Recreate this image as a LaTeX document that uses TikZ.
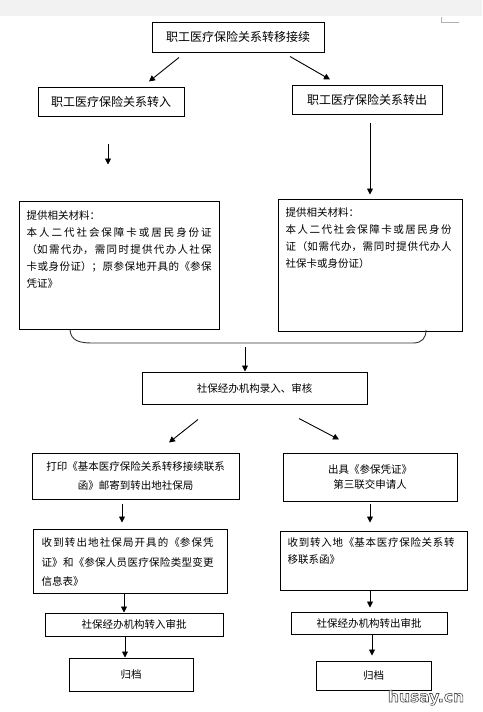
\documentclass[tikz,border=0pt]{standalone}
\usepackage{fontspec}
\newfontfamily\cjk{Noto Sans CJK SC}
\newfontfamily\wmfont{DejaVu Sans}
\usetikzlibrary{arrows.meta}
\XeTeXlinebreaklocale "zh"
\XeTeXlinebreakskip=0pt plus 4pt
\newcommand\outlined[1]{\special{pdf:code q 2 Tr 0.6 w 0.3 G}#1\special{pdf:code Q}}
\tikzset{
  box/.style={draw, line width=1pt, inner sep=0pt, font=\cjk\fontsize{10.5}{17}\selectfont},
  bigbox/.style={box, font=\cjk\fontsize{12}{14}\selectfont},
  txt/.style={inner sep=0pt, anchor=base west, align=justify, font=\cjk\fontsize{10.5}{17}\selectfont},
  arr/.style={line width=0.9pt, -{Triangle[length=6pt,width=6pt]}},
  wmtext/.style={inner sep=0pt, anchor=base, font=\wmfont\bfseries\fontsize{15.5}{15.5}\selectfont},
}
\begin{document}
\begin{tikzpicture}[x=1pt,y=-1pt]
\useasboundingbox (0,0) rectangle (482,712);
\fill[black!5] (0,0) rectangle (482,16);
\draw[black!30, line width=0.6pt] (441,17) -- (441,22) -- (459,22);
% top level
\node[bigbox, minimum width=172pt, minimum height=30pt] (top) at (238,37) {职工医疗保险关系转移接续};
\node[bigbox, minimum width=146pt, minimum height=29pt] (in) at (111,101.5) {职工医疗保险关系转入};
\node[bigbox, minimum width=150pt, minimum height=29pt] (out) at (367,99.5) {职工医疗保险关系转出};
\draw[arr] ([xshift=-59pt,yshift=-5pt]top.south) -- ([xshift=38pt,yshift=5pt]in.north);
\draw[arr] ([xshift=52pt,yshift=-4pt]top.south) -- ([xshift=-37pt,yshift=5pt]out.north);
% materials
\node[box, minimum width=200pt, minimum height=128pt] (matin) at (119,265) {};
\node[txt, text width=185pt] (matin-t) at ([xshift=8pt,yshift=-19pt]matin.north west) {提供相关材料：\\本人二代社会保障卡或居民身份证\linebreak{}（如需代办，需同时提供代办人社保\linebreak{}卡或身份证）；原参保地开具的《参保\linebreak{}凭证》};
\node[box, minimum width=184pt, minimum height=132pt] (matout) at (370,265) {};
\node[txt, text width=166pt] (matout-t) at ([xshift=8pt,yshift=-18pt]matout.north west) {提供相关材料：\\本人二代社会保障卡或居民身份\linebreak{}证（如需代办，需同时提供代办人\linebreak{}社保卡或身份证）};
\draw[arr] ([xshift=-3pt,yshift=-27pt]in.south) -- ([xshift=-11pt,yshift=36pt]matin.north);
\draw[arr] ([xshift=3pt,yshift=-8pt]out.south) -- ([yshift=4pt]matout.north);
% brace
\draw[line width=0.9pt, black!80] (70,330) .. controls (71,341) and (80,343) .. (92,343) -- (413,343) .. controls (422,343) and (426,338) .. (426,330);
\coordinate (join) at (245,343);
\node[box, minimum width=225pt, minimum height=32pt] (check) at (254.5,388) {社保经办机构录入、审核};
\draw[arr] ([yshift=-4pt]join) -- ([xshift=-9.5pt]check.north);
% second split
\node[box, minimum width=207pt, minimum height=46pt, align=center, font=\cjk\fontsize{10.5}{19}\selectfont] (print) at (135.5,476) {打印《基本医疗保险关系转移接续联系\\函》邮寄到转出地社保局};
\node[box, minimum width=174pt, minimum height=48pt, align=center, font=\cjk\fontsize{10.5}{15.5}\selectfont] (issue) at (370,477) {出具《参保凭证》\\第三联交申请人};
\draw[arr] ([xshift=-56.5pt,yshift=-15pt]check.south) -- ([xshift=33.5pt,yshift=10pt]print.north);
\draw[arr] ([xshift=44.5pt,yshift=-14pt]check.south) -- ([xshift=-31pt,yshift=13pt]issue.north);
% received papers
\node[box, minimum width=194pt, minimum height=64pt] (recvin) at (130,561) {};
\node[txt, text width=172pt, font=\cjk\fontsize{10.5}{19.5}\selectfont] (recvin-t) at ([xshift=9pt,yshift=-18pt]recvin.north west) {收到转出地社保局开具的《参保凭\linebreak{}证》和《参保人员医疗保险类型变更\linebreak{}信息表》};
\node[box, minimum width=187pt, minimum height=59pt] (recvout) at (373.5,560.5) {};
\node[txt, text width=167pt] (recvout-t) at ([xshift=8pt,yshift=-16pt]recvout.north west) {收到转入地《基本医疗保险关系转\linebreak{}移联系函》};
\draw[arr] ([xshift=-13.5pt,yshift=-4pt]print.south) -- ([xshift=-8pt,yshift=6pt]recvin.north);
\draw[arr] ([yshift=-2pt]issue.south) -- ([xshift=-3.5pt,yshift=8pt]recvout.north);
% approval and archive
\node[box, minimum width=178pt, minimum height=23pt] (apprin) at (134,624.5) {社保经办机构转入审批};
\node[box, minimum width=156pt, minimum height=22pt] (approut) at (369,623) {社保经办机构转出审批};
\node[box, minimum width=124pt, minimum height=33pt] (archin) at (131,674.5) {归档};
\node[box, minimum width=115pt, minimum height=29pt] (archout) at (373.5,675.5) {归档};
\draw[arr] ([xshift=-6pt]recvin.south) -- ([xshift=-10pt]apprin.north);
\draw[arr] ([xshift=-3.5pt]recvout.south) -- ([xshift=1pt,yshift=4pt]approut.north);
\draw[arr] ([xshift=-9pt]apprin.south) -- ([xshift=-6pt]archin.north);
\draw[arr] ([xshift=3pt]approut.south) -- ([xshift=-1.5pt,yshift=5pt]archout.north);
% watermark
\node[wmtext, text=white] (wm) at (426,702) {\outlined{husay.cn}};
\end{tikzpicture}
\end{document}
